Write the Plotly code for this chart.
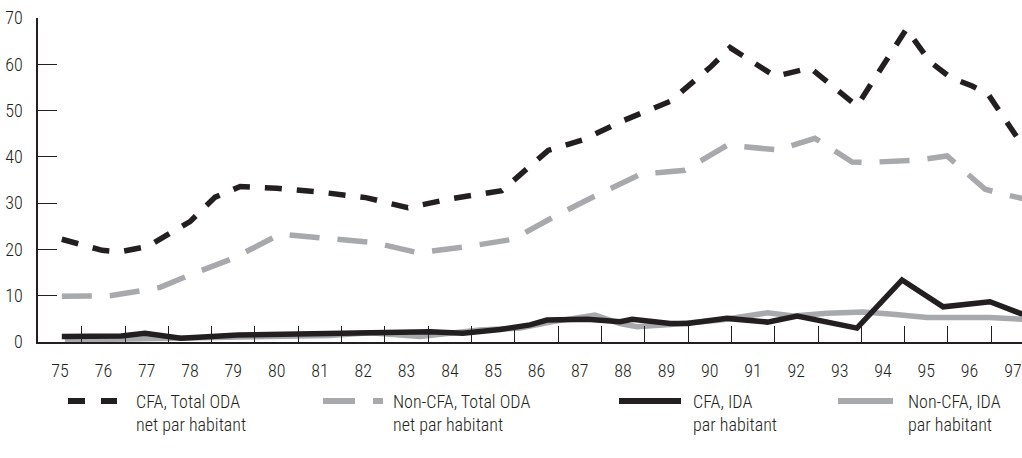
import plotly.graph_objects as go

# ---------------- data ----------------
year_labels = [str(y) for y in range(75, 98)]
year_ticks = list(range(75, 98))
band_edges = [y + 0.5 for y in range(75, 97)]
y_ticks = [0, 10, 20, 30, 40, 50, 60, 70]

cfa_total_x = [75.04, 75.97, 76.38, 77.01, 78.0, 78.58, 79.16, 80.0, 80.99, 82.06,
               83.03, 84.05, 85.2, 86.27, 87.08, 88.02, 89.09, 90.03, 90.47, 91.51,
               92.32, 93.4, 94.54, 95.09, 95.55, 96.06, 96.43, 97.22]
cfa_total_y = [22.2, 19.8, 19.5, 20.6, 26.0, 31.3, 33.6, 33.2, 32.4, 31.2,
               29.0, 31.0, 32.7, 41.4, 43.7, 47.9, 52.0, 59.5, 63.6, 57.4,
               59.2, 51.0, 67.6, 60.5, 57.2, 55.3, 53.5, 42.5]

noncfa_total_x = [75.04, 76.15, 77.01, 77.31, 78.0, 79.0, 80.08, 81.12, 82.23, 83.26,
                  84.4, 85.46, 86.47, 87.47, 88.44, 88.85, 89.43, 90.4, 91.58, 92.43,
                  93.29, 93.66, 94.79, 95.48, 96.36, 96.71, 97.22]
noncfa_total_y = [9.9, 10.0, 11.3, 11.8, 14.5, 18.1, 23.3, 22.3, 21.5, 19.3,
                  20.6, 22.2, 27.4, 32.1, 36.4, 36.6, 37.1, 42.5, 41.5, 44.0,
                  38.9, 38.8, 39.3, 40.2, 33.0, 32.1, 31.0]

cfa_ida_x = [75.04, 76.41, 76.96, 77.79, 79.11, 80.26, 82.39, 83.54, 84.3, 85.16,
             85.85, 86.24, 87.17, 87.93, 88.21, 89.09, 89.48, 90.4, 91.33, 92.02,
             93.4, 94.44, 95.39, 96.47, 97.22]
cfa_ida_y = [1.2, 1.3, 1.9, 0.8, 1.5, 1.7, 2.1, 2.2, 1.9, 2.7,
             3.7, 4.75, 4.9, 4.4, 4.9, 4.0, 4.0, 5.1, 4.3, 5.6,
             3.0, 13.4, 7.6, 8.7, 6.0]

noncfa_ida_x = [75.11, 76.61, 78.0, 79.62, 81.23, 82.15, 83.31, 84.69, 85.62, 86.38,
                87.35, 87.93, 88.32, 89.09, 90.25, 91.33, 91.93, 92.71, 93.54, 94.23,
                95.02, 96.47, 97.22]
noncfa_ida_y = [0.4, 0.6, 0.9, 1.1, 1.4, 2.0, 1.2, 2.6, 3.0, 4.4,
                5.8, 4.0, 3.3, 3.8, 4.75, 6.3, 5.6, 6.2, 6.5, 6.0,
                5.3, 5.3, 4.9]

series_names = ["CFA, Total ODA<br>net par habitant",
                "Non-CFA, Total ODA<br>net par habitant",
                "CFA, IDA<br>par habitant",
                "Non-CFA, IDA<br>par habitant"]

# ---------------- style ----------------
BLACK = "#231f20"
GREY = "#a7a9ac"
FONT = "Roboto Condensed, DejaVu Sans Condensed, sans-serif"
W, H = 1022, 458
ML, MR, MT, MB = 38, 0, 18, 116

fig = go.Figure()
fig.add_trace(go.Scatter(x=noncfa_ida_x, y=noncfa_ida_y, mode="lines",
                         line=dict(color=GREY, width=5.5), name=series_names[3],
                         showlegend=False, cliponaxis=False))
fig.add_trace(go.Scatter(x=cfa_ida_x, y=cfa_ida_y, mode="lines",
                         line=dict(color=BLACK, width=5.5), name=series_names[2],
                         showlegend=False, cliponaxis=False))
fig.add_trace(go.Scatter(x=noncfa_total_x, y=noncfa_total_y, mode="lines",
                         line=dict(color=GREY, width=5.5, dash="30px,18px"),
                         name=series_names[1], showlegend=False))
fig.add_trace(go.Scatter(x=cfa_total_x, y=cfa_total_y, mode="lines",
                         line=dict(color=BLACK, width=5.5, dash="17px,15px"),
                         name=series_names[0], showlegend=False))

# ---------------- manual legend ----------------
pw = W - ML - MR
ph = H - MT - MB


def px_x(px):
    return (px - ML) / pw


def px_y(py):
    return (H - MB - py) / ph


legend_items = [
    (68, 117, BLACK, "17px,16px", 134, series_names[0]),
    (323, 383, GREY, "32px,18px", 391, series_names[1]),
    (619, 681, BLACK, "solid", 691, series_names[2]),
    (838, 893, GREY, "solid", 906, series_names[3]),
]
shapes = []
annotations = []
for x0, x1, col, dash, tx, label in legend_items:
    shapes.append(dict(type="line", xref="paper", yref="paper",
                       x0=px_x(x0), x1=px_x(x1), y0=px_y(401), y1=px_y(401),
                       line=dict(color=col, width=6, dash=dash)))
    annotations.append(dict(xref="paper", yref="paper", x=px_x(tx), y=px_y(413),
                            xanchor="left", yanchor="middle", align="left",
                            showarrow=False, text=label,
                            font=dict(family=FONT, size=18, color=BLACK, weight=300)))

fig.update_layout(
    template="none",
    width=W, height=H,
    margin=dict(l=ML, r=MR, t=MT, b=MB, pad=0),
    paper_bgcolor="white", plot_bgcolor="white",
    showlegend=False,
    font=dict(family=FONT, size=18, color=BLACK, weight=300),
    shapes=shapes, annotations=annotations,
    xaxis=dict(range=[74.49, 97.21], tickmode="array", tickvals=year_ticks,
               ticktext=year_labels, ticks="", showgrid=False, zeroline=False,
               automargin=False,
               showline=True, linecolor=BLACK, linewidth=1.5,
               ticklabelstandoff=12,
               minor=dict(tickmode="array", tickvals=band_edges, ticks="inside",
                          ticklen=16, tickwidth=1.2, tickcolor=BLACK, showgrid=False),
               tickfont=dict(family=FONT, size=18, color=BLACK, weight=300)),
    yaxis=dict(range=[0, 70], tickmode="array", tickvals=y_ticks,
               ticks="inside", ticklen=19, tickwidth=1.2, tickcolor=BLACK,
               showgrid=False, zeroline=False, showline=True, linecolor=BLACK,
               automargin=False,
               linewidth=1.5, ticklabelstandoff=10,
               tickfont=dict(family=FONT, size=18, color=BLACK, weight=300)),
)

fig.write_html("out.html",
               config={"displayModeBar": False},
               post_script="document.body.style.margin='0';document.body.style.overflow='hidden';")
